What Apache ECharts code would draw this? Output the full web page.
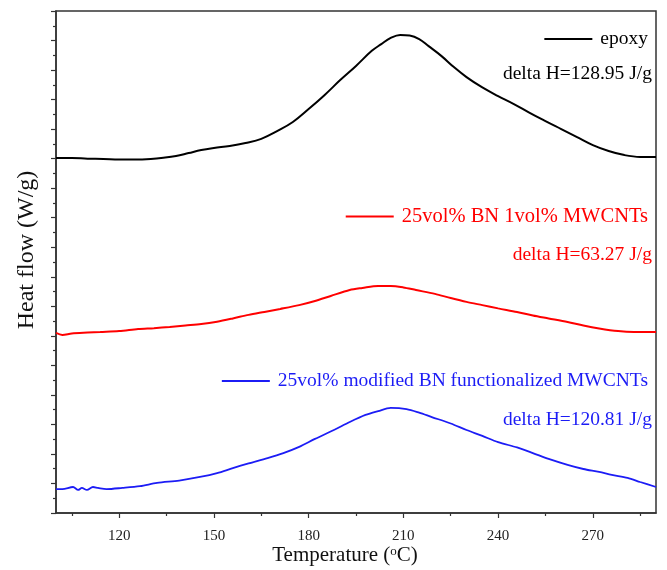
<!DOCTYPE html>
<html>
<head>
<meta charset="utf-8">
<script src="https://cdn.jsdelivr.net/npm/echarts@6/dist/echarts.min.js"></script>
<style>
  html, body { margin: 0; padding: 0; background: #fff; }
  #chart { width: 667px; height: 570px; }
</style>
</head>
<body>
<div id="chart"></div>
<script>
var chartDom = document.getElementById("chart");
var chart = echarts.init(chartDom, null, {renderer: "canvas"});

// temperatures (°C) and heat flow (stacked, arbitrary units)
var epoxyTemp = [100, 105, 110, 115, 120, 125, 130, 134, 138, 142, 146, 150, 155, 160, 165, 170, 175, 180, 185, 190, 195, 200, 203, 206, 209, 212, 215, 218, 222, 226, 230, 235, 240, 245, 250, 255, 260, 265, 270, 275, 280, 285, 290];
var epoxyFlow = [12.02, 12.02, 12.00, 11.99, 11.97, 11.97, 11.99, 12.03, 12.09, 12.19, 12.29, 12.36, 12.43, 12.53, 12.67, 12.93, 13.24, 13.68, 14.15, 14.66, 15.14, 15.65, 15.88, 16.09, 16.19, 16.17, 16.05, 15.81, 15.48, 15.10, 14.76, 14.41, 14.12, 13.85, 13.55, 13.27, 13.00, 12.73, 12.46, 12.26, 12.12, 12.06, 12.06];

var bnTemp = [100, 102, 105, 110, 114, 120, 126, 131, 136, 141, 146, 151, 156, 161, 166, 171, 177, 182, 187, 193, 197, 202, 206, 210, 214, 220, 225, 230, 235, 240, 246, 251, 256, 262, 267, 272, 278, 283, 290];
var bnFlow = [6.10, 6.03, 6.08, 6.11, 6.13, 6.16, 6.23, 6.26, 6.30, 6.35, 6.40, 6.48, 6.59, 6.71, 6.81, 6.91, 7.04, 7.18, 7.35, 7.55, 7.62, 7.69, 7.69, 7.64, 7.55, 7.42, 7.28, 7.15, 7.04, 6.93, 6.81, 6.69, 6.59, 6.47, 6.35, 6.25, 6.16, 6.13, 6.13];

var modTemp = [100, 102, 105.4, 107, 108.2, 109.8, 111.7, 113.3, 116, 121, 126.6, 132, 139, 145.6, 151, 156, 161, 167, 172, 177, 182, 188, 193, 198, 202, 206, 211, 215, 219, 225, 230, 235, 240, 246, 251, 256, 262, 267, 272, 276, 281, 285, 290];
var modFlow = [0.81, 0.81, 0.88, 0.78, 0.85, 0.78, 0.88, 0.85, 0.81, 0.85, 0.91, 1.02, 1.10, 1.22, 1.35, 1.52, 1.68, 1.86, 2.03, 2.24, 2.51, 2.81, 3.08, 3.32, 3.45, 3.56, 3.52, 3.40, 3.25, 3.03, 2.81, 2.61, 2.40, 2.22, 2.03, 1.83, 1.63, 1.49, 1.39, 1.29, 1.19, 1.05, 0.88];

var majorTicks = [120, 150, 180, 210, 240, 270];
var minorTicks = [105, 135, 165, 195, 225, 255, 285];

var names = ["epoxy", "25vol% BN 1vol% MWCNTs", "25vol% modified BN functionalized MWCNTs"];
var deltaH = ["delta H=128.95 J/g", "delta H=63.27 J/g", "delta H=120.81 J/g"];
var colors = ["#000000", "#ff0000", "#1c1cf5"];

function pairs(xs, ys) {
  return xs.map(function (x, i) { return [x, ys[i]]; });
}

var serif = "Liberation Serif";
var axisColor = "#333";

chart.setOption({
  animation: false,
  grid: {
    left: 56, right: 11, top: 11, bottom: 57,
    outerBoundsMode: "none",
    show: true, borderColor: axisColor, borderWidth: 1.5
  },
  legend: [0, 1, 2].map(function (i) {
    return {
      data: [names[i]],
      icon: "rect",
      right: 14,
      top: [24, 201, 366][i],
      itemWidth: 48,
      itemHeight: 2.2,
      itemGap: 0,
      textStyle: {color: colors[i], fontFamily: serif, fontSize: [19.5, 20.5, 19.5][i], padding: [0, 0, 0, 3]},
      selectedMode: false
    };
  }),
  graphic: [0, 1, 2].map(function (i) {
    return {
      type: "text",
      right: 15,
      top: [64, 245, 410][i],
      style: {text: deltaH[i], fill: colors[i], font: "19.5px " + serif}
    };
  }),
  xAxis: [
    {
      type: "value",
      min: 100, max: 290,
      name: "Temperature ({sup|o}C)",
      nameLocation: "middle",
      nameGap: 32,
      nameMoveOverlap: false,
      nameTextStyle: {
        fontFamily: serif, fontSize: 21, color: "#111", padding: [0, 22, 0, 0],
        rich: {sup: {fontFamily: serif, fontSize: 13, color: "#111", verticalAlign: "top"}}
      },
      axisLine: {lineStyle: {color: axisColor, width: 1.5}},
      axisTick: {customValues: majorTicks, length: 5, lineStyle: {color: axisColor, width: 1.2}},
      axisLabel: {customValues: majorTicks, fontFamily: serif, fontSize: 15, color: "#222", margin: 16},
      splitLine: {show: false}
    },
    {
      type: "value",
      min: 100, max: 290,
      position: "bottom",
      axisLine: {show: false},
      axisTick: {customValues: minorTicks, length: 3, lineStyle: {color: axisColor, width: 1.2}},
      axisLabel: {show: false},
      splitLine: {show: false}
    }
  ],
  yAxis: {
    type: "value",
    min: 0, max: 17, interval: 1,
    name: "Heat flow (W/g)",
    nameLocation: "middle",
    nameGap: 17,
    nameTextStyle: {fontFamily: serif, fontSize: 24, color: "#111", padding: [0, 0, 0, 24]},
    axisLine: {lineStyle: {color: axisColor, width: 1.5}},
    axisTick: {length: 5, lineStyle: {color: axisColor, width: 1.2}},
    minorTick: {show: true, splitNumber: 2, length: 3, lineStyle: {color: axisColor, width: 1.2}},
    axisLabel: {show: false},
    splitLine: {show: false}
  },
  series: [
    {name: names[0], type: "line", data: pairs(epoxyTemp, epoxyFlow), smooth: 0.4, symbol: "none",
     lineStyle: {color: colors[0], width: 2}, itemStyle: {color: colors[0]}},
    {name: names[1], type: "line", data: pairs(bnTemp, bnFlow), smooth: 0.3, symbol: "none",
     lineStyle: {color: colors[1], width: 2}, itemStyle: {color: colors[1]}},
    {name: names[2], type: "line", data: pairs(modTemp, modFlow), smooth: 0.3, symbol: "none",
     lineStyle: {color: colors[2], width: 1.8}, itemStyle: {color: colors[2]}}
  ]
});
</script>
</body>
</html>
